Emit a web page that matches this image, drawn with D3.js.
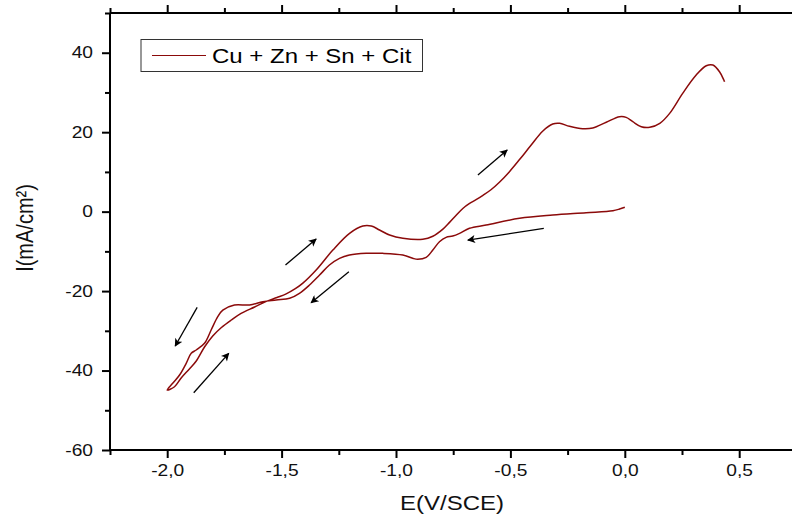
<!DOCTYPE html>
<html><head><meta charset="utf-8">
<script src="https://cdn.jsdelivr.net/npm/d3@7"></script>
<style>
body{margin:0;background:#fff;}
svg{display:block;font-family:"Liberation Sans",Arial,sans-serif;}
</style></head>
<body><svg id="c" width="792" height="517"></svg>
<script>
// Cyclic voltammogram: cathodic scan (0 -> -2 V) then anodic scan (-2 -> 0.44 V)
const potentialE = [
 0.000,-0.023,-0.052,-0.169,-0.315,-0.460,-0.606,-0.679,-0.722,-0.752,-0.781,-0.810,-0.839,-0.868,-0.905,-0.927,-0.970,-1.058,-1.130,-1.203,-1.247,-1.291,-1.334,-1.378,-1.422,-1.465,-1.524,-1.582,-1.640,-1.706,-1.757,-1.779,-1.808,-1.837,-1.873,-1.895,-1.917,-1.946,-1.976,-2.000,
 -1.968,-1.939,-1.903,-1.873,-1.837,-1.801,-1.763,-1.720,-1.677,-1.618,-1.567,-1.520,-1.480,-1.440,-1.407,-1.349,-1.276,-1.203,-1.145,-1.108,-1.072,-1.028,-0.970,-0.883,-0.839,-0.795,-0.766,-0.737,-0.708,-0.680,-0.650,-0.620,-0.585,-0.548,-0.505,-0.460,-0.410,-0.358,-0.315,-0.285,-0.242,-0.184,-0.140,-0.081,-0.023,0.006,0.035,0.072,0.109,0.153,0.196,0.253,0.312,0.356,0.385,0.414,0.436
];
const currentI = [
 1.1,0.65,0.23,-0.28,-0.86,-1.69,-3.37,-4.2,-5.46,-6.14,-6.47,-7.58,-9.67,-11.5,-12.0,-11.75,-10.92,-10.5,-10.5,-10.92,-11.75,-13.44,-15.96,-18.47,-20.56,-21.82,-22.25,-22.68,-23.5,-23.5,-24.77,-26.45,-29.8,-33.15,-34.83,-35.67,-38.18,-41.13,-43.22,-44.9,
 -44.07,-41.88,-39.6,-37.6,-34.08,-31.3,-29.17,-27.28,-25.6,-24.0,-22.6,-21.6,-20.7,-19.4,-18.0,-14.7,-9.67,-5.46,-3.62,-3.62,-4.63,-5.89,-6.72,-6.97,-6.2,-4.4,-2.7,-0.9,0.8,2.0,3.0,4.1,5.5,7.4,10.0,13.1,16.7,20.3,22.05,22.22,21.47,20.87,21.04,22.5,23.89,23.73,22.63,21.37,21.22,22.23,24.74,29.78,34.38,36.72,36.9,35.21,32.7
];
// scan-direction arrows [E1, I1, E2, I2] (arrowhead at second point)
const arrowE1 = [-1.869,-1.884,-1.483,-1.206,-0.642,-0.354];
const arrowI1 = [-24.09,-45.58,-13.44,-15.13,9.21,-4.2];
const arrowE2 = [-1.965,-1.731,-1.349,-1.371,-0.514,-0.686];
const arrowI2 = [-33.83,-35.67,-6.9,-22.93,15.5,-7.15];

const xMajorTicks = [-2.0,-1.5,-1.0,-0.5,0.0,0.5];
const xMinorTicks = [-2.25,-1.75,-1.25,-0.75,-0.25,0.25,0.75];
const yMajorTicks = [-60,-40,-20,0,20,40];
const yMinorTicks = [-50,-30,-10,10,30,50];
const seriesName = "Cu + Zn + Sn + Cit";
const xTitle = "E(V/SCE)";
const yTitle = "I(mA/cm²)";

const SX = 1.2; // horizontal stretch of the text glyphs
const svg = d3.select("#c");
const L = 110, R = 796.4, T = 13, B = 450;
const x = d3.scaleLinear().domain([-2.25, 0.75]).range([L, R]);
const y = d3.scaleLinear().domain([-60, 50]).range([B, T]);
const fmtX = d => d.toFixed(1).replace(".", ",").replace("\u2212", "-");
const fmtY = d => String(d);

// bottom axis
const gB = svg.append("g").attr("transform", `translate(0,${B})`);
gB.call(d3.axisBottom(x).tickValues(xMajorTicks).tickFormat(fmtX).tickSize(8).tickPadding(7));
gB.append("g").call(d3.axisBottom(x).tickValues(xMinorTicks).tickFormat("").tickSize(5));
// top axis
const gT = svg.append("g").attr("transform", `translate(0,${T})`);
gT.call(d3.axisTop(x).tickValues(xMajorTicks).tickFormat("").tickSize(8));
gT.append("g").call(d3.axisTop(x).tickValues(xMinorTicks).tickFormat("").tickSize(5));
// left axis
const gL = svg.append("g").attr("transform", `translate(${L},0)`);
gL.call(d3.axisLeft(y).tickValues(yMajorTicks).tickFormat(fmtY).tickSize(8).tickPadding(10));
gL.append("g").call(d3.axisLeft(y).tickValues(yMinorTicks).tickFormat("").tickSize(5));

svg.selectAll(".domain").attr("stroke", "#000").attr("stroke-width", 2);
svg.selectAll(".tick line").attr("stroke", "#000").attr("stroke-width", 2);
svg.selectAll(".tick text").attr("font-size", 16).attr("fill", "#111")
   .attr("font-family", '"Liberation Sans",Arial,sans-serif');
gB.selectAll(".tick text").attr("transform", `scale(${SX},1)`);
gL.selectAll(".tick text").attr("x", -17 / SX).attr("transform", `scale(${SX},1)`);
gB.selectAll(".domain").attr("d", `M${L},0H792`);
gT.selectAll(".domain").attr("d", `M${L},0H792`);
gL.selectAll(".domain").attr("d", `M0,${T}V${B}`);

// curve
const pts = potentialE.map((e, i) => [e, currentI[i]]);
svg.append("path").datum(pts)
  .attr("fill", "none").attr("stroke", "#8b0a0a").attr("stroke-width", 1.5)
  .attr("stroke-linejoin", "round")
  .attr("d", d3.line().x(d => x(d[0])).y(d => y(d[1])).curve(d3.curveCatmullRom.alpha(0.5)));

// arrows
const defs = svg.append("defs");
defs.append("marker").attr("id", "ah").attr("viewBox", "0 0 10 10")
  .attr("refX", 9).attr("refY", 5).attr("markerWidth", 10).attr("markerHeight", 8)
  .attr("markerUnits", "userSpaceOnUse").attr("orient", "auto")
  .append("path").attr("d", "M0,0L10,5L0,10L2.5,5Z").attr("fill", "#000");
arrowE1.forEach((e1, i) => {
  svg.append("line")
    .attr("x1", x(e1)).attr("y1", y(arrowI1[i]))
    .attr("x2", x(arrowE2[i])).attr("y2", y(arrowI2[i]))
    .attr("stroke", "#000").attr("stroke-width", 1.3)
    .attr("marker-end", "url(#ah)");
});

// legend
const lg = svg.append("g");
lg.append("rect").attr("x", 141).attr("y", 39.5).attr("width", 281.5).attr("height", 32)
  .attr("fill", "#fff").attr("stroke", "#333").attr("stroke-width", 1);
lg.append("line").attr("x1", 152).attr("x2", 206).attr("y1", 55.5).attr("y2", 55.5)
  .attr("stroke", "#8b0a0a").attr("stroke-width", 1.2);
lg.append("text").attr("transform", `translate(212,62.5) scale(${SX},1)`)
  .attr("font-size", 20).attr("fill", "#000").text(seriesName);

// axis titles
svg.append("text").attr("transform", `translate(452,510) scale(${SX},1)`).attr("text-anchor", "middle")
  .attr("font-size", 20).attr("fill", "#111").text(xTitle);
svg.append("text").attr("transform", `translate(33,228) scale(${SX},1) rotate(-90)`).attr("text-anchor", "middle")
  .attr("font-size", 20).attr("fill", "#111").text(yTitle);
</script></body></html>
